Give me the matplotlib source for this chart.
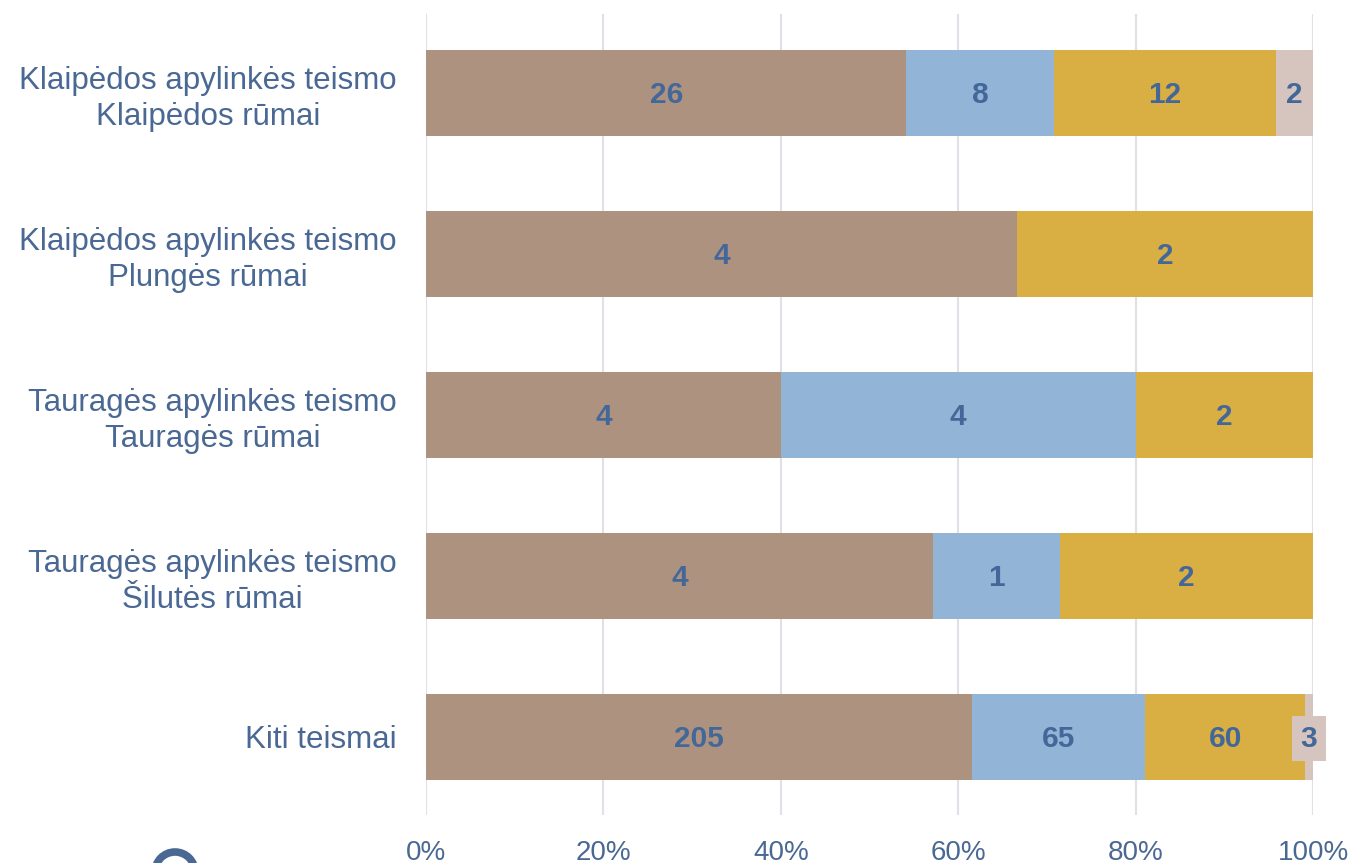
import matplotlib
matplotlib.use("Agg")
import matplotlib.pyplot as plt
from matplotlib.patches import Circle
import numpy as np

categories = [
    "Klaipėdos apylinkės teismo\nKlaipėdos rūmai",
    "Klaipėdos apylinkės teismo\nPlungės rūmai",
    "Tauragės apylinkės teismo\nTauragės rūmai",
    "Tauragės apylinkės teismo\nŠilutės rūmai",
    "Kiti teismai",
]
series1 = [26, 4, 4, 4, 205]
series2 = [8, 0, 4, 1, 65]
series3 = [12, 2, 2, 2, 60]
series4 = [2, 0, 0, 0, 3]
xticks = [0, 20, 40, 60, 80, 100]
xtick_labels = ["0%", "20%", "40%", "60%", "80%", "100%"]

colors = ["#AD9280", "#92B5D7", "#D9AE43", "#D5C5BE"]
text_color = "#4A6894"
label_color = "#44679A"

plt.rcParams['font.family'] = ['Liberation Sans', 'DejaVu Sans']

fig = plt.figure(figsize=(13.52, 8.63), dpi=100)
ax = fig.add_axes([426/1352, (863-815)/863, (1313-426)/1352, (815-14)/863])

data = np.array([series1, series2, series3, series4], dtype=float)
totals = data.sum(axis=0)
pct = data / totals * 100
y = np.arange(len(categories))
left = np.zeros(len(categories))
for i in range(4):
    ax.barh(y, pct[i], left=left, height=0.53, color=colors[i], zorder=2)
    for j in range(len(categories)):
        v = data[i, j]
        if v > 0:
            cx = left[j] + pct[i, j] / 2
            small = pct[i, j] < 3
            kw = {}
            if small:
                kw['bbox'] = dict(facecolor=colors[i], edgecolor='none', pad=6)
            ax.text(cx, y[j] + 0.01, f"{int(v)}", ha='center', va='center',
                    fontsize=21.5, fontweight='bold', color=label_color, zorder=5, **kw)
    left += pct[i]

ax.set_xlim(0, 100)
ax.set_ylim(4.485, -0.49)
ax.set_yticks(y)
ax.set_yticklabels(categories, fontsize=22.5, color=text_color, ha='right',
                   multialignment='center', linespacing=1.25)
ax.set_xticks(xticks)
ax.set_xticklabels(xtick_labels, fontsize=20, color=text_color)
ax.tick_params(axis='both', length=0)
ax.tick_params(axis='y', pad=21)
ax.tick_params(axis='x', pad=18)
for s in ax.spines.values():
    s.set_visible(False)
ax.grid(axis='x', color='#E0E1E8', linewidth=1.5, zorder=0)
ax.set_axisbelow(True)

# partial logo ring at bottom-left
fig.patches.append(Circle((175, 863-872), 20, transform=None, facecolor='none',
                          edgecolor=text_color, linewidth=5.5, clip_on=False))

fig.savefig("out.png", dpi=100)
